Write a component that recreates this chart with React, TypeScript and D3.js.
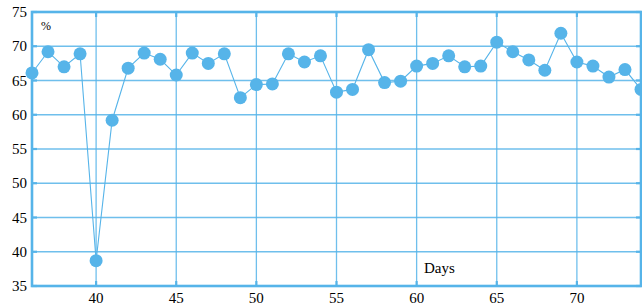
import React, { useEffect, useRef } from "react";
import * as d3 from "d3";

// days on the x axis and the percent values
const days = d3.range(36, 75);
const values = [
  66.1, 69.2, 67.0, 68.9, 38.7, 59.2, 66.8, 69.0, 68.1, 65.8,
  69.0, 67.5, 68.9, 62.5, 64.4, 64.5, 68.9, 67.7, 68.6, 63.3,
  63.7, 69.5, 64.7, 64.9, 67.1, 67.5, 68.6, 67.0, 67.1, 70.6,
  69.2, 68.0, 66.5, 71.9, 67.7, 67.1, 65.5, 66.6, 63.7,
];
const xTicks = [40, 45, 50, 55, 60, 65, 70];
const yTicks = [35, 40, 45, 50, 55, 60, 65, 70, 75];

const App = () => {
  const ref = useRef<SVGSVGElement>(null);

  useEffect(() => {
    const width = 642, height = 305;
    const margin = { top: 12, right: 1, bottom: 19, left: 32 };
    const blue = "#56b4e9";

    const svg = d3.select(ref.current);
    svg.selectAll("*").remove();

    const x = d3.scaleLinear().domain([36, 74]).range([margin.left, width - margin.right]);
    const y = d3.scaleLinear().domain([35, 75]).range([height - margin.bottom, margin.top]);

    const g = svg.append("g");

    // grid
    g.selectAll("line.gy")
      .data(yTicks.slice(1, -1))
      .join("line")
      .attr("x1", x(36)).attr("x2", x(74))
      .attr("y1", (d) => y(d)).attr("y2", (d) => y(d))
      .attr("stroke", blue).attr("stroke-opacity", 0.85).attr("stroke-width", 1.3);
    g.selectAll("line.gx")
      .data(xTicks)
      .join("line")
      .attr("x1", (d) => x(d)).attr("x2", (d) => x(d))
      .attr("y1", y(35)).attr("y2", y(75))
      .attr("stroke", blue).attr("stroke-opacity", 0.85).attr("stroke-width", 1.3);

    // small ticks
    const tickLen = 5;
    xTicks.forEach((d) => {
      g.append("line").attr("x1", x(d)).attr("x2", x(d)).attr("y1", y(75)).attr("y2", y(75) + tickLen)
        .attr("stroke", blue).attr("stroke-width", 2.2);
      g.append("line").attr("x1", x(d)).attr("x2", x(d)).attr("y1", y(35)).attr("y2", y(35) - tickLen)
        .attr("stroke", blue).attr("stroke-width", 2.2);
    });
    yTicks.forEach((d) => {
      g.append("line").attr("x1", x(36)).attr("x2", x(36) + tickLen).attr("y1", y(d)).attr("y2", y(d))
        .attr("stroke", blue).attr("stroke-width", 2.2);
      g.append("line").attr("x1", x(74)).attr("x2", x(74) - tickLen).attr("y1", y(d)).attr("y2", y(d))
        .attr("stroke", blue).attr("stroke-width", 2.2);
    });

    // frame
    g.append("rect")
      .attr("x", x(36)).attr("y", y(75))
      .attr("width", x(74) - x(36)).attr("height", y(35) - y(75))
      .attr("fill", "none").attr("stroke", blue).attr("stroke-width", 2.6);

    // tick labels
    const font = "Liberation Serif, DejaVu Serif, serif";
    g.selectAll("text.yl")
      .data(yTicks)
      .join("text")
      .attr("x", x(36) - 5).attr("y", (d) => y(d) + 5)
      .attr("text-anchor", "end")
      .style("font-family", font).style("font-size", "15px")
      .text((d) => d);
    g.selectAll("text.xl")
      .data(xTicks)
      .join("text")
      .attr("x", (d) => x(d)).attr("y", height - 2)
      .attr("text-anchor", "middle")
      .style("font-family", font).style("font-size", "15px")
      .text((d) => d);

    g.append("text").attr("x", 41).attr("y", 30)
      .style("font-family", font).style("font-size", "12px").text("%");
    g.append("text").attr("x", 424).attr("y", 273)
      .style("font-family", font).style("font-size", "15px").text("Days");

    // series
    const pts = days.map((d, i) => [d, values[i]] as [number, number]);
    const line = d3.line<[number, number]>().x((d) => x(d[0])).y((d) => y(d[1]));
    g.append("path").attr("d", line(pts)).attr("fill", "none")
      .attr("stroke", blue).attr("stroke-width", 1.1);
    g.selectAll("circle")
      .data(pts)
      .join("circle")
      .attr("cx", (d) => x(d[0])).attr("cy", (d) => y(d[1]))
      .attr("r", 6.5).attr("fill", blue);
  }, []);

  return (
    <svg ref={ref} width={642} height={305}
      style={{ position: "absolute", left: 0, top: 0 }} />
  );
};

export default App;
